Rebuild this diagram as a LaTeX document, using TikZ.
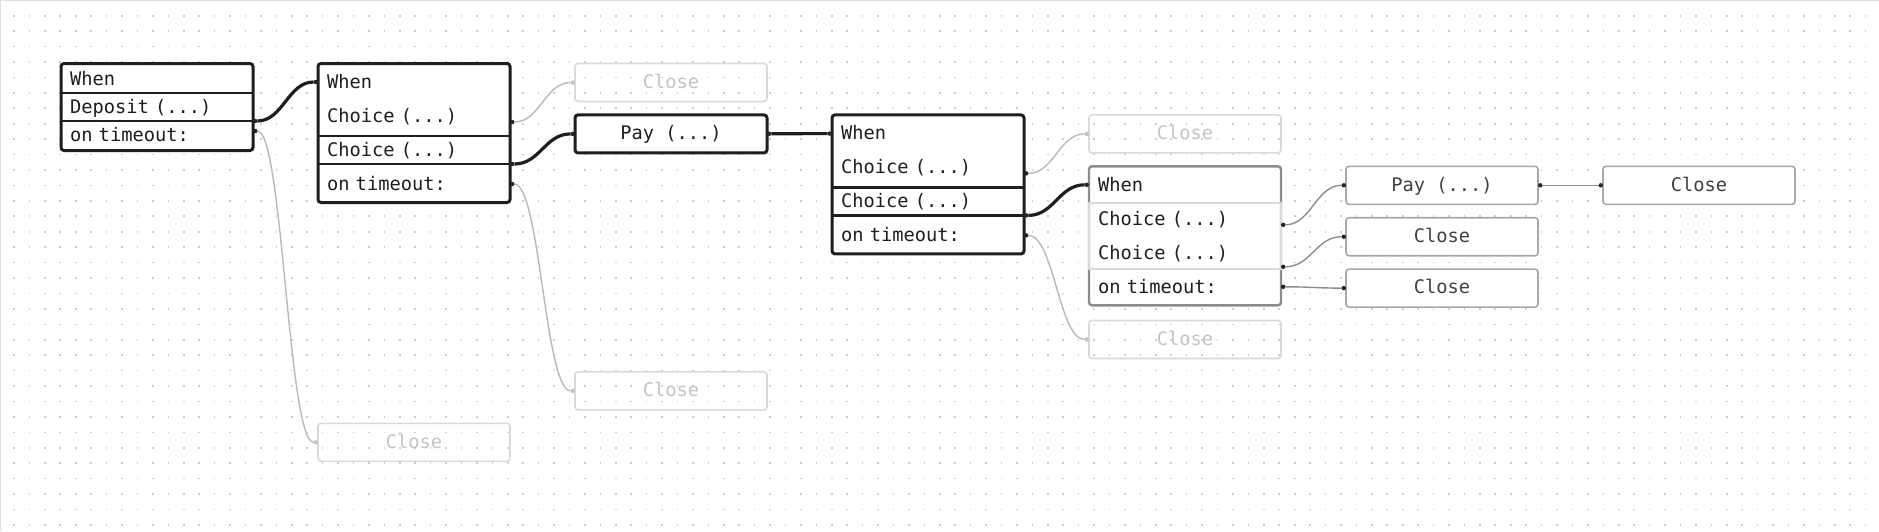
\documentclass[tikz,border=0pt]{standalone}
\usepackage{fontspec}
\setmonofont{DejaVu Sans Mono}
\usepackage{xcolor}
\usepackage{tikz}
\usetikzlibrary{arrows.meta, positioning, fit}

\definecolor{ink}{HTML}{1E1E1E}
\definecolor{dotc}{HTML}{24242E}
\definecolor{midgray}{HTML}{A8A8A8}
\definecolor{boxgray}{HTML}{8C8C8C}
\definecolor{pale}{HTML}{DADADA}
\definecolor{paletext}{HTML}{C4C4C4}
\definecolor{griddot}{HTML}{CDCDCD}

\begin{document}
\begin{tikzpicture}[
  font=\ttfamily\fontsize{9.35pt}{11pt}\selectfont,
  dk/.tip={Circle[length=2.2pt, line width=0pt, color=dotc]},
  pl/.tip={Circle[length=2.2pt, line width=0pt, color=paletext]},
  block/.style={rectangle, rounded corners=1.5pt, draw=ink, line width=1.5pt, fill=white, minimum width=96pt, inner sep=0pt, outer sep=0pt},
  row/.style={rectangle, text width=87pt, inner xsep=4.5pt, inner ysep=0pt, outer sep=0pt, minimum height=14pt, text height=7.6pt, text depth=1.2pt, align=left, text=ink},
  pick/.style={row, draw=ink, line width=1.2pt},
  leaf/.style={rectangle, rounded corners=1.5pt, minimum width=96pt, minimum height=19pt, inner sep=0pt, outer sep=0pt, text height=7.3pt, text depth=1.5pt, text centered},
  boldleaf/.style={leaf, draw=ink, line width=1.5pt, fill=white, text=ink},
  grayleaf/.style={leaf, draw=midgray, line width=0.8pt, fill=white, text=ink!85},
  paleleaf/.style={leaf, draw=pale, line width=0.8pt, text=paletext},
  boldlink/.style={arrows=dk-dk, draw=ink, line width=1.6pt},
  graylink/.style={arrows=dk-dk, draw=boxgray, line width=0.7pt},
  palelink/.style={arrows=dk-pl, draw=pale!85!black, line width=0.7pt}
]
% canvas with dotted grid
\useasboundingbox[fill=white] (0,0) rectangle (939.5pt,-265.5pt);
\foreach \j in {0,...,33}
  \draw[griddot, line width=0.8pt, dash pattern=on 0.8pt off 6.915pt]
    (6.6pt,{-(7.85+7.715*\j)*1pt}) -- (939.5pt,{-(7.85+7.715*\j)*1pt});
\draw[line width=0.6pt, black!12] (0,-265.5pt) -- (0,0) -- (939.5pt,0);

% first When
\node (b1) [block, minimum height=43.5pt, anchor=north west] at (30.5pt,-31.75pt) {};
\node (b1w) [row, below=0.75pt of b1.north] {When};
\node (b1d) [pick, below=0pt of b1w] {Deposit (...)};
\node (b1t) [row, below=0pt of b1d] {on timeout:};

% second When
\node (b2) [block, minimum height=69.5pt, right=32.5pt of b1.north east, anchor=north west] {};
\node (b2w) [row, below=2.25pt of b2.north] {When};
\node (b2c1) [row, below=3pt of b2w] {Choice (...)};
\node (b2c2) [pick, below=3pt of b2c1] {Choice (...)};
\node (b2t) [row, below=3pt of b2c2] {on timeout:};

\node (close1) [paleleaf, right=32.5pt of b2.north east, anchor=north west] {Close};
\node (pay1) [boldleaf, below=6.7pt of close1] {Pay (...)};

% third When
\node (b3) [block, minimum height=69.5pt, right=32.5pt of pay1.north east, anchor=north west] {};
\node (b3w) [row, below=2.25pt of b3.north] {When};
\node (b3c1) [row, below=3pt of b3w] {Choice (...)};
\node (b3c2) [pick, below=3pt of b3c1] {Choice (...)};
\node (b3t) [row, below=3pt of b3c2] {on timeout:};

\node (close2) [paleleaf, right=32.5pt of b3.north east, anchor=north west] {Close};

% fourth When
\node (b4) [block, draw=boxgray, line width=1.2pt, minimum height=69.5pt, below=6.7pt of close2] {};
\node (b4w) [row, below=2.25pt of b4.north] {When};
\node (b4c1) [row, below=3pt of b4w] {Choice (...)};
\node (b4c2) [row, below=3pt of b4c1] {Choice (...)};
\node (b4t) [row, below=3pt of b4c2] {on timeout:};
\node (b4grp) [fit=(b4c1)(b4c2), draw=pale, line width=1pt, inner xsep=0pt, inner ysep=1pt] {};

\node (close6) [paleleaf, below=7.6pt of b4] {Close};
\node (pay2) [grayleaf, right=32.5pt of b4.north east, anchor=north west] {Pay (...)};
\node (close3) [grayleaf, right=32.5pt of pay2] {Close};
\node (close4) [grayleaf, below=6.7pt of pay2] {Close};
\node (close5) [grayleaf, below=6.7pt of close4] {Close};
\node (close7) [paleleaf, below=109.5pt of pay1] {Close};
\node (close8) [paleleaf, below=110.4pt of b2] {Close};

% links
\draw[boldlink] (b1d.south east) .. controls +(15pt,0) and +(-15pt,0) .. (b2w.west);
\draw[palelink] ([yshift=2pt]b1t.east) .. controls +(15pt,0) and +(-15pt,0) .. (close8.west);
\draw[palelink] ([yshift=-3pt]b2c1.east) .. controls +(15pt,0) and +(-15pt,0) .. (close1.west);
\draw[boldlink] (b2c2.south east) .. controls +(15pt,0) and +(-15pt,0) .. (pay1.west);
\draw[palelink] (b2t.east) .. controls +(15pt,0) and +(-15pt,0) .. (close7.west);
\draw[boldlink] (pay1) -- (b3w);
\draw[palelink] ([yshift=-3pt]b3c1.east) .. controls +(15pt,0) and +(-15pt,0) .. (close2.west);
\draw[boldlink] (b3c2.south east) .. controls +(15pt,0) and +(-15pt,0) .. (b4w.west);
\draw[palelink] (b3t.east) .. controls +(15pt,0) and +(-15pt,0) .. (close6.west);
\draw[graylink] ([yshift=-3pt]b4c1.east) .. controls +(15pt,0) and +(-15pt,0) .. (pay2.west);
\draw[graylink] (pay2) -- (close3);
\draw[graylink] (b4c2.south east) .. controls +(15pt,0) and +(-15pt,0) .. (close4.west);
\draw[graylink] (b4t.east) .. controls +(15pt,0) and +(-15pt,0) .. (close5.west);
\end{tikzpicture}
\end{document}
